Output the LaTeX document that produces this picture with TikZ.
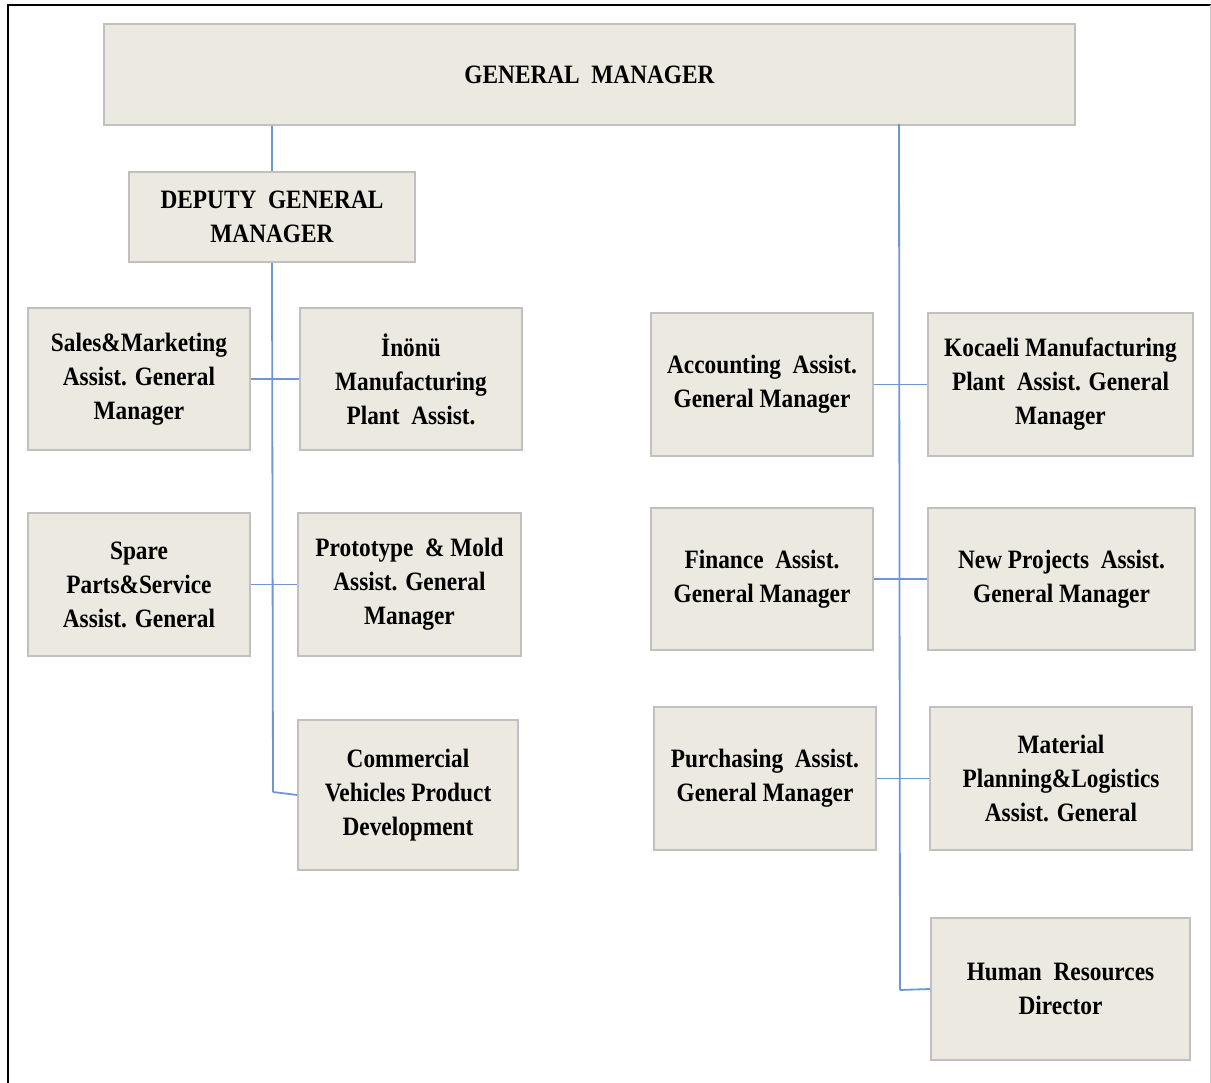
\documentclass[tikz,border=0pt]{standalone}
\usepackage{fontspec}
\setmainfont{Liberation Serif}[FakeStretch=0.88]
\definecolor{boxfill}{HTML}{ECE9E0}
\definecolor{boxdraw}{HTML}{C0C0C0}
\definecolor{linkc}{HTML}{6E96D4}
\tikzset{
  orgbox/.style={draw=boxdraw, line width=1.6pt, fill=boxfill, inner sep=0pt, align=center,
    font=\bfseries\fontsize{26.5}{34}\selectfont, text=black},
  link/.style={draw=linkc, line width=1.8pt}
}
\newcommand{\obox}[6]{% name, x1, y1, x2, y2, text
  \node[orgbox, minimum width={(#4-#2)*1pt}, minimum height={(#5-#3)*1pt}] (#1) at ({(#2+#4)/2},{(#3+#5)/2+1}) {#6};}
\begin{document}
\begin{tikzpicture}[x=1pt,y=-1pt]
\useasboundingbox (0,0) rectangle (1211,1083);
% frame
\draw[black, line width=2.5pt] (8,1083) -- (8,5) -- (1211,5);
\draw[gray!40, line width=1pt] (1210,5) -- (1210,1083);
% boxes
\obox{gm}{104}{23}{1075}{124}{GENERAL\ \ MANAGER}
\obox{dep}{129}{171}{415}{261}{DEPUTY\ \ GENERAL\\MANAGER}
\obox{sm}{28}{307}{250}{449}{Sales\&Marketing\\Assist. General\\Manager}
\obox{ino}{300}{307}{522}{449}{İnönü\\Manufacturing\\Plant\ \ Assist.}
\obox{sp}{28}{512}{250}{655}{Spare\\Parts\&Service\\Assist. General}
\obox{pm}{298}{512}{521}{655}{Prototype\ \ \& Mold\\Assist. General\\Manager}
\obox{cv}{298}{719}{518}{869}{Commercial\\Vehicles Product\\Development}
\obox{acc}{651}{312}{873}{455}{Accounting\ \ Assist.\\General Manager}
\obox{koc}{928}{312}{1193}{455}{Kocaeli Manufacturing\\Plant\ \ Assist. General\\Manager}
\obox{fin}{651}{507}{873}{649}{Finance\ \ Assist.\\General Manager}
\obox{np}{928}{507}{1195}{649}{New Projects\ \ Assist.\\General Manager}
\obox{pur}{654}{706}{876}{849}{Purchasing\ \ Assist.\\General Manager}
\obox{mat}{930}{706}{1192}{849}{Material\\Planning\&Logistics\\Assist. General}
\obox{hr}{931}{917}{1190}{1059}{Human\ \ Resources\\Director}
% connectors
\coordinate (lbot) at (273,792);
\coordinate (rtop) at (899,124);
\coordinate (rbot) at (900,990);
\draw[link] (gm.south -| dep.north) -- (dep.north);
\draw[link] (dep.south) -- (lbot);
\draw[link] (lbot) -- (cv.west);
\draw[link] (sm.east) -- (ino.west);
\draw[link] (sp.east) -- (pm.west);
\draw[link] (rtop) -- (rbot);
\draw[link] (rbot) -- (hr.west);
\draw[link] (acc.east) -- (acc.east -| koc.west);
\draw[link] (fin.east) -- (fin.east -| np.west);
\draw[link] (pur.east) -- (pur.east -| mat.west);
\end{tikzpicture}
\end{document}
